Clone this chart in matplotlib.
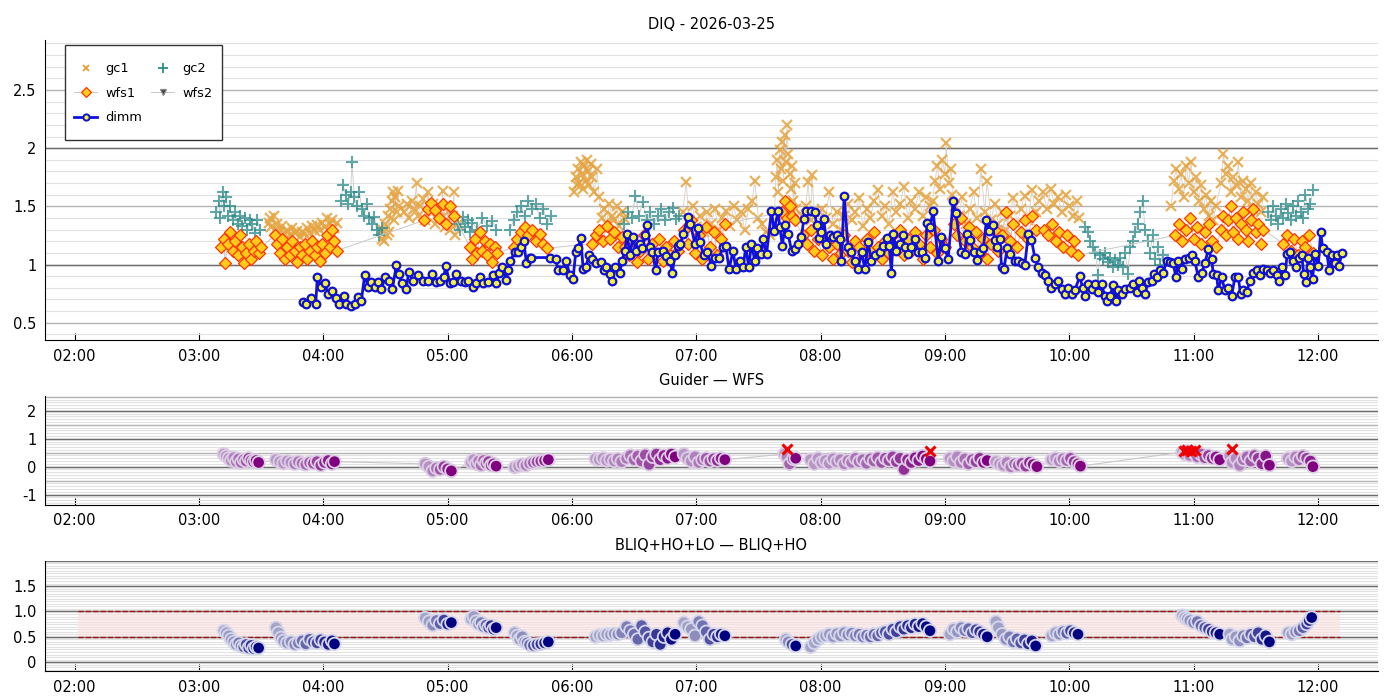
import matplotlib
matplotlib.use('Agg')
import matplotlib.pyplot as plt
import matplotlib.dates as mdates
from matplotlib.ticker import MultipleLocator, FuncFormatter
from matplotlib.lines import Line2D
from matplotlib.legend_handler import HandlerLine2D
import numpy as np
import pandas as pd

DAY = pd.Timestamp('2026-03-25')

# ---- top panel (DIQ) : times in decimal hours, values in arcsec ----
gc1_t = [3.56, 3.57, 3.58, 3.60, 3.61, 3.63, 3.65, 3.67, 3.69, 3.71, 3.73, 3.75, 3.77, 3.79, 3.81, 3.83, 3.85, 3.87,
         3.89, 3.91, 3.93, 3.95, 3.97, 3.99, 4.01, 4.03, 4.05, 4.07, 4.09, 4.11,
         4.47, 4.48, 4.49, 4.50, 4.51, 4.52, 4.53, 4.54, 4.55, 4.56, 4.57, 4.58, 4.59, 4.60, 4.61,
         4.65, 4.67, 4.69, 4.71, 4.73, 4.75, 4.76, 4.78, 4.80, 4.82, 4.84, 4.86, 4.88, 4.90, 4.92, 4.94, 4.96, 4.98,
         5.00, 5.02, 5.04, 5.05, 5.06, 5.08,
         6.02, 6.03, 6.04, 6.05, 6.06, 6.07, 6.08, 6.09, 6.10, 6.11, 6.12, 6.13, 6.14, 6.15, 6.16, 6.18, 6.20, 6.22,
         6.24, 6.26, 6.28, 6.30, 6.32, 6.34, 6.36, 6.38, 6.40, 6.42,
         6.89, 6.92, 6.94, 6.97, 7.00, 7.03, 7.06, 7.09, 7.12, 7.15, 7.18, 7.21, 7.24, 7.27, 7.30, 7.33, 7.36, 7.39,
         7.42, 7.45, 7.47, 7.50, 7.53, 7.56, 7.59,
         7.63, 7.64, 7.65, 7.66, 7.67, 7.68, 7.69, 7.70, 7.71, 7.72, 7.73, 7.74, 7.75, 7.76, 7.77, 7.78, 7.79, 7.80,
         7.85, 7.88, 7.90, 7.92, 7.93, 7.95, 7.98, 8.01, 8.04, 8.07, 8.10, 8.13, 8.16, 8.19, 8.22, 8.25, 8.28, 8.31,
         8.34, 8.37, 8.40, 8.43, 8.46, 8.49, 8.52, 8.55, 8.58, 8.61, 8.64, 8.67, 8.70, 8.73, 8.76, 8.79, 8.82, 8.85, 8.88,
         8.90, 8.92, 8.94, 8.96, 8.98, 9.00, 9.01, 9.03, 9.05, 9.06,
         9.08, 9.11, 9.14, 9.17, 9.20, 9.23, 9.26, 9.29, 9.32, 9.34, 9.37, 9.40, 9.43, 9.46, 9.49, 9.52, 9.55, 9.58,
         9.61, 9.64, 9.67, 9.70, 9.73,
         9.76, 9.79, 9.82, 9.85, 9.88, 9.91, 9.94, 9.97, 10.00, 10.03, 10.06, 10.08,
         10.82, 10.84, 10.86, 10.88, 10.90, 10.92, 10.94, 10.96, 10.98, 11.00, 11.02, 11.04, 11.06, 11.08, 11.10,
         11.12, 11.14, 11.16, 11.18,
         11.22, 11.24, 11.26, 11.28, 11.30, 11.32, 11.34, 11.36, 11.38, 11.40, 11.42, 11.44, 11.46, 11.48, 11.50,
         11.52, 11.54, 11.56]
gc1_v = [1.36, 1.40, 1.32, 1.42, 1.30, 1.35, 1.28, 1.33, 1.26, 1.30, 1.25, 1.31, 1.27, 1.29, 1.24, 1.28, 1.26, 1.31,
         1.27, 1.33, 1.29, 1.34, 1.30, 1.36, 1.32, 1.40, 1.35, 1.38, 1.31, 1.36,
         1.22, 1.30, 1.20, 1.35, 1.25, 1.42, 1.28, 1.48, 1.55, 1.62, 1.38, 1.58, 1.45, 1.63, 1.50,
         1.45, 1.52, 1.40, 1.55, 1.48, 1.70, 1.42, 1.50, 1.56, 1.38, 1.62, 1.45, 1.52, 1.35, 1.48, 1.40, 1.63, 1.32,
         1.45, 1.30, 1.42, 1.62, 1.25, 1.35,
         1.62, 1.75, 1.68, 1.82, 1.70, 1.88, 1.78, 1.65, 1.85, 1.72, 1.90, 1.80, 1.68, 1.86, 1.75, 1.62, 1.82, 1.58,
         1.40, 1.48, 1.35, 1.52, 1.42, 1.38, 1.50, 1.33, 1.45, 1.40,
         1.45, 1.71, 1.38, 1.50, 1.32, 1.42, 1.28, 1.45, 1.35, 1.48, 1.30, 1.40, 1.46, 1.33, 1.50, 1.38, 1.45, 1.30,
         1.48, 1.55, 1.72, 1.40, 1.35, 1.28, 1.25,
         1.45, 1.75, 1.90, 1.62, 1.98, 1.82, 2.05, 1.72, 2.11, 1.88, 2.20, 1.95, 1.78, 1.65, 1.85, 1.55, 1.70, 1.48,
         1.42, 1.50, 1.71, 1.38, 1.77, 1.45, 1.32, 1.48, 1.40, 1.62, 1.35, 1.45, 1.30, 1.42, 1.52, 1.38, 1.45, 1.57,
         1.33, 1.48, 1.40, 1.55, 1.64, 1.42, 1.50, 1.35, 1.62, 1.45, 1.52, 1.67, 1.40, 1.55, 1.48, 1.62, 1.42, 1.58, 1.50,
         1.55, 1.72, 1.85, 1.65, 1.90, 1.78, 2.04, 1.70, 1.82, 1.60,
         1.50, 1.42, 1.58, 1.35, 1.48, 1.62, 1.40, 1.82, 1.45, 1.72, 1.38, 1.52, 1.35, 1.45, 1.30, 1.42, 1.57, 1.35,
         1.48, 1.59, 1.38, 1.64, 1.45,
         1.55, 1.62, 1.48, 1.65, 1.52, 1.58, 1.45, 1.60, 1.50, 1.42, 1.55, 1.40,
         1.50, 1.72, 1.82, 1.65, 1.78, 1.58, 1.85, 1.70, 1.88, 1.62, 1.75, 1.55, 1.68, 1.48, 1.60,
         1.42, 1.55, 1.38, 1.50,
         1.70, 1.95, 1.78, 1.85, 1.62, 1.75, 1.68, 1.88, 1.58, 1.72, 1.65, 1.55, 1.70, 1.48, 1.62,
         1.52, 1.45, 1.58]

gc2_t = [3.14, 3.16, 3.17, 3.19, 3.20, 3.22, 3.23, 3.25, 3.27, 3.29, 3.31, 3.33, 3.35, 3.37, 3.39, 3.41, 3.43, 3.45,
         3.47, 3.49,
         4.14, 4.16, 4.18, 4.20, 4.22, 4.23, 4.25, 4.27, 4.29, 4.31, 4.33, 4.35, 4.37, 4.39, 4.41, 4.43, 4.45, 4.47,
         5.08, 5.10, 5.12, 5.14, 5.16, 5.18, 5.20, 5.24, 5.28, 5.32, 5.36, 5.39,
         5.50, 5.53, 5.56, 5.59, 5.62, 5.65, 5.68, 5.71, 5.74, 5.77, 5.80, 5.83,
         6.42, 6.45, 6.48, 6.51, 6.54, 6.57, 6.60, 6.63, 6.66, 6.69, 6.72, 6.75, 6.78, 6.81, 6.84, 6.86,
         10.13, 10.15, 10.17, 10.19, 10.21, 10.23, 10.25, 10.27, 10.29, 10.31, 10.33, 10.35, 10.37, 10.39, 10.41,
         10.43, 10.45, 10.47, 10.49, 10.51, 10.53, 10.55, 10.57, 10.59, 10.61, 10.63, 10.65, 10.67, 10.69, 10.71,
         10.73, 10.75,
         11.60, 11.62, 11.64, 11.66, 11.68, 11.70, 11.72, 11.74, 11.76, 11.78, 11.80, 11.82, 11.84, 11.86, 11.88,
         11.90, 11.92, 11.94, 11.96]
gc2_v = [1.45, 1.55, 1.40, 1.62, 1.50, 1.58, 1.42, 1.50, 1.38, 1.45, 1.35, 1.42, 1.33, 1.40, 1.30, 1.38, 1.35, 1.27,
         1.38, 1.30,
         1.55, 1.68, 1.60, 1.52, 1.62, 1.88, 1.58, 1.50, 1.62, 1.48, 1.42, 1.52, 1.40, 1.35, 1.41, 1.30, 1.25, 1.31,
         1.35, 1.30, 1.41, 1.32, 1.38, 1.28, 1.36, 1.30, 1.40, 1.33, 1.37, 1.30,
         1.30, 1.38, 1.45, 1.50, 1.42, 1.55, 1.48, 1.52, 1.40, 1.48, 1.35, 1.42,
         1.35, 1.45, 1.40, 1.59, 1.42, 1.54, 1.38, 1.45, 1.35, 1.42, 1.48, 1.38, 1.45, 1.49, 1.39, 1.42,
         1.32, 1.28, 1.20, 1.15, 1.10, 0.91, 1.08, 1.05, 1.10, 1.02, 1.06, 0.98, 1.04, 1.00, 1.06,
         0.98, 1.10, 0.92, 1.15, 1.20, 1.28, 1.35, 1.45, 1.55, 1.30, 1.20, 1.10, 1.25, 1.05, 1.15,
         1.00, 1.08,
         1.45, 1.38, 1.50, 1.42, 1.35, 1.48, 1.40, 1.52, 1.44, 1.38, 1.50, 1.42, 1.55, 1.45, 1.40,
         1.60, 1.48, 1.52, 1.64]

wfs1_t = [3.18, 3.20, 3.21, 3.23, 3.25, 3.27, 3.29, 3.31, 3.33, 3.35, 3.36, 3.38, 3.40, 3.42, 3.44, 3.46, 3.48, 3.50,
          3.61, 3.63, 3.65, 3.67, 3.69, 3.71, 3.73, 3.75, 3.77, 3.79, 3.81, 3.83, 3.85, 3.87, 3.89, 3.91, 3.93, 3.95,
          3.97, 3.99, 4.01, 4.03, 4.05, 4.07, 4.09, 4.11,
          4.81, 4.84, 4.87, 4.90, 4.93, 4.96, 4.99, 5.02, 5.05,
          5.18, 5.20, 5.22, 5.24, 5.26, 5.28, 5.30, 5.32, 5.34, 5.36, 5.38, 5.40,
          5.53, 5.56, 5.59, 5.62, 5.65, 5.68, 5.71, 5.74, 5.77, 5.80,
          6.16, 6.19, 6.22, 6.25, 6.28, 6.31, 6.34, 6.37, 6.40,
          6.43, 6.46, 6.49, 6.52, 6.55, 6.58, 6.61, 6.64, 6.67, 6.70, 6.73, 6.76, 6.79, 6.82, 6.85,
          6.90, 6.93, 6.96, 6.99, 7.02, 7.05, 7.08, 7.11, 7.14, 7.17, 7.20, 7.23,
          7.69, 7.71, 7.73, 7.75, 7.77, 7.79,
          7.86, 7.89, 7.92, 7.95, 7.98, 8.01, 8.04, 8.07, 8.10, 8.13, 8.16, 8.19, 8.22, 8.25, 8.28, 8.31, 8.34, 8.37,
          8.40, 8.43, 8.46, 8.49, 8.52, 8.55, 8.58, 8.61, 8.64, 8.67, 8.70, 8.73, 8.76, 8.79, 8.82, 8.85, 8.88, 8.91,
          8.94, 8.97, 9.00,
          9.07, 9.10, 9.13, 9.16, 9.19, 9.22, 9.25, 9.28, 9.31, 9.34, 9.37, 9.40, 9.43, 9.46, 9.49, 9.52, 9.55, 9.58,
          9.61, 9.64, 9.67, 9.70, 9.73,
          9.80, 9.83, 9.86, 9.89, 9.92, 9.95, 9.98, 10.01, 10.04, 10.07,
          10.85, 10.88, 10.91, 10.94, 10.97, 11.00, 11.03, 11.06, 11.09, 11.12, 11.15, 11.18,
          11.22, 11.24, 11.26, 11.28, 11.30, 11.32, 11.34, 11.36, 11.38, 11.40, 11.42, 11.44, 11.46, 11.48, 11.50,
          11.52, 11.54, 11.56,
          11.72, 11.75, 11.78, 11.81, 11.84, 11.87, 11.90, 11.93, 11.96]
wfs1_v = [1.15, 1.22, 1.01, 1.18, 1.28, 1.12, 1.20, 1.08, 1.25, 1.15, 1.01, 1.10, 1.18, 1.05, 1.12, 1.20, 1.10, 1.15,
          1.25, 1.18, 1.10, 1.22, 1.05, 1.15, 1.08, 1.20, 1.12, 1.02, 1.15, 1.08, 1.18, 1.05, 1.12, 1.20, 1.08, 1.15,
          1.03, 1.18, 1.10, 1.25, 1.15, 1.30, 1.20, 1.12,
          1.38, 1.48, 1.53, 1.47, 1.40, 1.52, 1.35, 1.50, 1.42,
          1.15, 1.05, 1.22, 1.10, 1.28, 1.12, 1.20, 1.08, 1.18, 1.02, 1.15, 1.10,
          1.15, 1.22, 1.28, 1.32, 1.25, 1.30, 1.20, 1.26, 1.18, 1.14,
          1.18, 1.25, 1.30, 1.20, 1.33, 1.22, 1.28, 1.15, 1.24,
          1.15, 1.08, 1.20, 1.02, 1.12, 1.25, 1.05, 1.18, 1.10, 1.22, 1.03, 1.15, 1.08, 1.20, 1.12,
          1.30, 1.18, 1.38, 1.10, 1.25, 1.05, 1.32, 1.15, 1.28, 1.08, 1.22, 1.35,
          1.45, 1.55, 1.40, 1.50, 1.42, 1.38,
          1.25, 1.18, 1.30, 1.12, 1.22, 1.08, 1.20, 1.15, 1.05, 1.18, 1.10, 1.25, 1.12, 1.02, 1.20, 1.15, 1.08, 1.22,
          1.12, 1.28, 1.15, 1.05, 1.20, 1.10, 1.25, 1.15, 1.30, 1.08, 1.22, 1.12, 1.28, 1.18, 1.05, 1.25, 1.15, 1.30,
          1.10, 1.22, 1.15,
          1.35, 1.25, 1.40, 1.20, 1.32, 1.15, 1.28, 1.10, 1.22, 1.05, 1.18, 1.30, 1.12, 1.25, 1.45, 1.20, 1.35, 1.15,
          1.28, 1.38, 1.22, 1.42, 1.30,
          1.30, 1.25, 1.35, 1.20, 1.28, 1.15, 1.25, 1.12, 1.20, 1.08,
          1.25, 1.35, 1.20, 1.30, 1.40, 1.22, 1.32, 1.18, 1.28, 1.35, 1.20, 1.15,
          1.30, 1.42, 1.25, 1.38, 1.50, 1.28, 1.40, 1.22, 1.35, 1.45, 1.30, 1.20, 1.38, 1.48, 1.28,
          1.35, 1.18, 1.30,
          1.18, 1.25, 1.12, 1.22, 1.08, 1.20, 1.15, 1.25, 1.10]

dimm_t = [3.837, 3.864, 3.904, 3.939, 3.952, 3.985, 4.011, 4.038, 4.073, 4.105, 4.124, 4.164, 4.186, 4.220, 4.253,
          4.279, 4.306, 4.333, 4.360, 4.387, 4.414, 4.440, 4.467, 4.499, 4.526, 4.556, 4.588, 4.609, 4.633, 4.668,
          4.687, 4.722, 4.762, 4.802, 4.843, 4.877, 4.910, 4.936, 4.969, 4.985, 5.017, 5.044, 5.071, 5.111, 5.138,
          5.164, 5.205, 5.232, 5.258, 5.285, 5.325,
          5.366, 5.392, 5.414, 5.441, 5.473, 5.486, 5.505, 5.540, 5.567, 5.588, 5.612, 5.634, 5.661, 5.674, 5.821,
          5.870, 5.888, 5.929, 5.955, 5.982, 6.009, 6.031, 6.049, 6.071, 6.090, 6.111, 6.138, 6.165, 6.197, 6.237,
          6.256, 6.277, 6.304, 6.323, 6.350, 6.385, 6.403, 6.425, 6.444, 6.465, 6.492, 6.513, 6.545, 6.567, 6.586,
          6.607, 6.626, 6.647, 6.674, 6.693, 6.733, 6.760, 6.787, 6.808, 6.827, 6.854, 6.873, 6.894, 6.934, 6.953,
          6.988, 7.015, 7.028, 7.060, 7.087, 7.122, 7.149, 7.184, 7.216, 7.237, 7.264, 7.296, 7.318, 7.350, 7.377,
          7.398, 7.422, 7.444, 7.471, 7.489, 7.524, 7.538, 7.565, 7.605, 7.626, 7.658, 7.672, 7.693, 7.712, 7.739,
          7.766, 7.792, 7.819, 7.846, 7.865, 7.886, 7.919, 7.953, 7.967, 7.988, 8.007, 8.026, 8.047, 8.074, 8.101,
          8.128, 8.155, 8.168, 8.189, 8.221, 8.243, 8.275, 8.302, 8.329, 8.356, 8.382, 8.409, 8.436, 8.476, 8.503,
          8.530, 8.551, 8.570, 8.584, 8.610, 8.637, 8.659, 8.677, 8.704, 8.731, 8.758, 8.785, 8.812, 8.838, 8.857,
          8.879, 8.905, 8.946, 8.972, 8.999, 9.026,
          9.066, 9.088, 9.133, 9.160, 9.174, 9.200, 9.233, 9.254, 9.281, 9.308, 9.334, 9.356, 9.383, 9.401, 9.420,
          9.442, 9.455, 9.474, 9.501, 9.522, 9.562, 9.589, 9.616, 9.643, 9.670, 9.696, 9.723, 9.750, 9.777, 9.804,
          9.831, 9.857, 9.884, 9.911, 9.938, 9.965, 9.991, 10.018, 10.045, 10.085, 10.107, 10.126, 10.152, 10.179,
          10.206, 10.233, 10.260, 10.286, 10.305, 10.327, 10.353, 10.375, 10.394, 10.421, 10.447, 10.488, 10.514,
          10.541, 10.563, 10.581, 10.608, 10.635, 10.662, 10.681, 10.702, 10.729, 10.756, 10.783, 10.809, 10.836,
          10.858, 10.877, 10.903, 10.930, 10.965, 10.984, 11.011, 11.037, 11.064, 11.091, 11.118, 11.145, 11.158,
          11.185, 11.198, 11.225, 11.252, 11.279, 11.306, 11.332, 11.359, 11.378, 11.399, 11.426, 11.453, 11.480,
          11.507, 11.533, 11.560, 11.587, 11.614, 11.641, 11.668, 11.689, 11.708, 11.735, 11.753, 11.775, 11.802,
          11.823, 11.850, 11.869, 11.887, 11.904, 11.922, 11.936, 11.957, 11.976, 12.003, 12.022, 12.038, 12.070,
          12.091, 12.110, 12.137, 12.156, 12.172, 12.190]
dimm_v = [0.68, 0.66, 0.71, 0.66, 0.89, 0.81, 0.84, 0.75, 0.77, 0.71, 0.66, 0.73, 0.66, 0.64, 0.66,
          0.72, 0.69, 0.91, 0.81, 0.85, 0.81, 0.85, 0.79, 0.89, 0.86, 0.79, 1.00, 0.92, 0.84, 0.79,
          0.94, 0.86, 0.91, 0.86, 0.86, 0.92, 0.85, 0.86, 0.89, 0.99, 0.84, 0.85, 0.92, 0.86, 0.85,
          0.86, 0.81, 0.84, 0.89, 0.84, 0.85,
          0.91, 0.84, 0.93, 0.98, 0.87, 0.95, 1.03, 1.11, 1.11, 1.15, 1.20, 1.01, 1.06, 1.06, 1.06,
          1.05, 0.95, 0.95, 1.03, 0.91, 0.88, 1.11, 1.14, 1.23, 0.96, 0.98, 1.08, 1.05, 1.01, 1.02,
          0.95, 0.98, 0.92, 0.86, 0.98, 0.93, 1.03, 1.12, 1.26, 1.08, 1.24, 1.12, 1.18, 1.14, 1.25,
          1.34, 1.15, 1.11, 0.95, 1.11, 1.12, 1.07, 1.03, 0.93, 1.08, 1.16, 1.18, 1.26, 1.41, 1.35,
          1.18, 1.31, 1.19, 1.08, 1.11, 0.99, 1.06, 1.06, 1.15, 1.16, 0.96, 1.12, 0.96, 1.03, 0.98,
          1.15, 0.98, 1.18, 1.03, 1.14, 1.09, 1.22, 1.09, 1.46, 1.29, 1.46, 1.32, 1.16, 1.34, 1.26,
          1.12, 1.13, 1.18, 1.24, 1.39, 1.46, 1.46, 1.45, 1.34, 1.23, 1.28, 1.39, 1.18, 1.25, 1.24,
          1.25, 1.22, 1.03, 1.59, 1.15, 1.11, 1.03, 0.96, 1.11, 0.96, 1.19, 1.03, 1.08, 1.11, 1.16,
          1.23, 1.16, 0.93, 1.26, 1.12, 1.18, 1.25, 1.15, 1.09, 1.15, 1.22, 1.11, 1.11, 1.06, 1.36,
          1.32, 1.46, 1.03, 1.24, 1.14, 1.05,
          1.55, 1.44, 1.11, 1.09, 1.26, 1.21, 1.11, 1.04, 1.11, 1.14, 1.38, 1.29, 1.34, 1.21, 1.15,
          1.22, 0.98, 0.96, 1.14, 1.09, 1.03, 1.03, 1.01, 1.00, 1.26, 1.21, 1.06, 0.98, 0.93, 0.91,
          0.86, 0.80, 0.83, 0.86, 0.79, 0.75, 0.80, 0.75, 0.78, 0.90, 0.80, 0.73, 0.83, 0.79,
          0.83, 0.76, 0.83, 0.73, 0.69, 0.73, 0.82, 0.69, 0.78, 0.75, 0.79, 0.80, 0.83,
          0.76, 0.86, 0.80, 0.75, 0.85, 0.86, 0.92, 0.89, 0.95, 0.93, 1.03, 1.02, 1.01,
          0.89, 1.03, 0.96, 1.05, 1.06, 1.08, 1.03, 0.89, 0.93, 1.01, 1.13, 1.05, 0.92,
          0.91, 0.78, 0.89, 0.78, 0.80, 0.73, 0.89, 0.89, 0.75, 0.78, 0.76, 0.86, 0.93,
          0.95, 0.91, 0.96, 0.95, 0.93, 0.95, 0.91, 0.86, 0.98, 0.91, 1.09, 1.11, 1.03,
          0.98, 1.06, 1.08, 0.92, 0.85, 1.06, 0.98, 0.88, 1.09, 0.99, 1.28, 1.14, 1.11,
          0.95, 1.08, 1.01, 1.08, 0.99, 1.10]

# ---- middle panel (Guider - WFS) ----
gw_t = [3.20, 3.22, 3.24, 3.26, 3.28, 3.30, 3.32, 3.34, 3.36, 3.38, 3.40, 3.42, 3.44, 3.46, 3.48,
        3.62, 3.65, 3.68, 3.71, 3.74, 3.77, 3.80, 3.83, 3.86, 3.89, 3.92, 3.95, 3.98, 4.01, 4.04, 4.07, 4.09,
        4.82, 4.85, 4.88, 4.91, 4.94, 4.97, 5.00, 5.03,
        5.19, 5.21, 5.23, 5.25, 5.27, 5.29, 5.31, 5.33, 5.35, 5.37, 5.39,
        5.54, 5.57, 5.60, 5.63, 5.66, 5.69, 5.72, 5.75, 5.78, 5.81,
        6.19, 6.22, 6.25, 6.28, 6.31, 6.34, 6.37, 6.40,
        6.44, 6.47, 6.50, 6.53, 6.56, 6.59, 6.62, 6.65, 6.68, 6.71, 6.74, 6.77, 6.80, 6.83,
        6.90, 6.93, 6.96, 6.99, 7.02, 7.05, 7.08, 7.11, 7.14, 7.17, 7.20, 7.23,
        7.71, 7.73, 7.75, 7.78, 7.80,
        7.92, 7.95, 7.98, 8.01, 8.04, 8.07, 8.10, 8.13, 8.16, 8.19, 8.22, 8.25, 8.28, 8.31, 8.34, 8.37, 8.40, 8.43,
        8.46, 8.49, 8.52, 8.55, 8.58, 8.61, 8.64, 8.67, 8.70, 8.73, 8.76, 8.79, 8.82, 8.85, 8.88,
        9.04, 9.07, 9.10, 9.13, 9.16, 9.19, 9.22, 9.25, 9.28, 9.31, 9.34,
        9.41, 9.44, 9.47, 9.50, 9.53, 9.56, 9.59, 9.62, 9.65, 9.68, 9.71, 9.74,
        9.86, 9.89, 9.92, 9.95, 9.98, 10.01, 10.04, 10.07, 10.09,
        10.91, 10.93, 10.95, 10.97, 11.00, 11.03, 11.06, 11.09, 11.12, 11.15, 11.18, 11.21,
        11.29, 11.31, 11.34, 11.37, 11.40, 11.43, 11.46, 11.49, 11.52, 11.55, 11.58, 11.61,
        11.76, 11.79, 11.82, 11.85, 11.88, 11.91, 11.94, 11.96]
gw_v = [0.45, 0.38, 0.30, 0.22, 0.32, 0.18, 0.28, 0.15, 0.25, 0.20, 0.30, 0.22, 0.18, 0.22, 0.15,
        0.25, 0.18, 0.12, 0.20, 0.15, 0.10, 0.18, 0.12, 0.08, 0.15, 0.12, 0.18, 0.05, 0.15, 0.22, 0.10, 0.18,
        0.10, 0.00, -0.15, -0.05, -0.10, 0.00, -0.08, -0.15,
        0.15, 0.25, 0.10, 0.20, 0.05, 0.22, 0.12, 0.18, 0.05, 0.10, 0.02,
        -0.02, 0.02, 0.08, 0.05, 0.12, 0.15, 0.18, 0.20, 0.22, 0.25,
        0.28, 0.25, 0.30, 0.22, 0.26, 0.20, 0.28, 0.18,
        0.30, 0.40, 0.25, 0.38, 0.20, 0.42, 0.08, 0.35, 0.45, 0.25, 0.40, 0.30, 0.45, 0.35,
        0.45, 0.30, 0.20, 0.35, 0.15, 0.25, 0.30, 0.20, 0.28, 0.22, 0.30, 0.25,
        0.45, 0.35, 0.10, 0.28, 0.30,
        0.25, 0.10, 0.30, 0.15, 0.22, 0.12, 0.28, 0.18, 0.25, 0.10, 0.22, 0.15, 0.30, 0.18, 0.25, 0.12, 0.28, 0.20,
        0.32, 0.15, 0.30, 0.22, 0.35, 0.18, 0.30, -0.10, 0.25, 0.15, 0.32, 0.22, 0.38, 0.28, 0.20,
        0.30, 0.20, 0.35, 0.15, 0.28, 0.10, 0.25, 0.18, 0.30, 0.15, 0.22,
        0.18, 0.10, 0.05, 0.15, 0.00, 0.10, 0.05, 0.12, 0.02, 0.15, 0.08, 0.00,
        0.25, 0.30, 0.20, 0.28, 0.22, 0.30, 0.18, 0.10, 0.02,
        0.52, 0.45, 0.55, 0.40, 0.50, 0.35, 0.45, 0.32, 0.40, 0.30, 0.35, 0.25,
        0.40, 0.15, 0.30, 0.05, 0.25, 0.35, 0.20, 0.40, 0.30, 0.10, 0.38, 0.05,
        0.30, 0.20, 0.35, 0.25, 0.38, 0.30, 0.20, 0.00]
flag_t = [7.73, 8.88, 10.92, 10.95, 10.98, 11.01, 11.31]
flag_v = [0.64, 0.55, 0.57, 0.59, 0.57, 0.59, 0.64]

# ---- bottom panel (BLIQ+HO+LO - BLIQ+HO) ----
bl_t = [3.20, 3.22, 3.24, 3.26, 3.28, 3.30, 3.32, 3.34, 3.36, 3.38, 3.40, 3.42, 3.44, 3.46, 3.48,
        3.62, 3.64, 3.66, 3.68, 3.71, 3.74, 3.77, 3.80, 3.83, 3.86, 3.89, 3.92, 3.95, 3.98, 4.01, 4.04, 4.07, 4.09,
        4.82, 4.85, 4.88, 4.91, 4.94, 4.97, 5.00, 5.03,
        5.19, 5.21, 5.23, 5.25, 5.27, 5.29, 5.31, 5.33, 5.35, 5.37, 5.39,
        5.54, 5.56, 5.58, 5.60, 5.62, 5.64, 5.66, 5.69, 5.72, 5.75, 5.78, 5.81,
        6.19, 6.22, 6.25, 6.28, 6.31, 6.34, 6.37, 6.40,
        6.44, 6.47, 6.50, 6.53, 6.56, 6.59, 6.62, 6.65, 6.68, 6.71, 6.74, 6.77, 6.80, 6.83,
        6.90, 6.93, 6.96, 6.99, 7.02, 7.05, 7.08, 7.11, 7.14, 7.17, 7.20, 7.23,
        7.72, 7.74, 7.77, 7.80,
        7.92, 7.95, 7.98, 8.01, 8.04, 8.07, 8.10, 8.13, 8.16, 8.19, 8.22, 8.25, 8.28, 8.31, 8.34, 8.37, 8.40, 8.43,
        8.46, 8.49, 8.52, 8.55, 8.58, 8.61, 8.64, 8.67, 8.70, 8.73, 8.76, 8.79, 8.82, 8.85, 8.88,
        9.04, 9.07, 9.10, 9.13, 9.16, 9.19, 9.22, 9.25, 9.28, 9.31, 9.34,
        9.41, 9.43, 9.46, 9.49, 9.52, 9.55, 9.58, 9.61, 9.64, 9.67, 9.70, 9.73,
        9.86, 9.89, 9.92, 9.95, 9.98, 10.01, 10.04, 10.07,
        10.91, 10.93, 10.95, 10.97, 11.00, 11.03, 11.06, 11.09, 11.12, 11.15, 11.18, 11.21,
        11.29, 11.31, 11.34, 11.37, 11.40, 11.43, 11.46, 11.49, 11.52, 11.55, 11.58, 11.61,
        11.76, 11.79, 11.82, 11.85, 11.88, 11.91, 11.93, 11.95]
bl_v = [0.62, 0.58, 0.52, 0.45, 0.40, 0.35, 0.38, 0.32, 0.30, 0.35, 0.28, 0.33, 0.27, 0.30, 0.28,
        0.68, 0.58, 0.48, 0.42, 0.38, 0.40, 0.35, 0.38, 0.42, 0.36, 0.45, 0.40, 0.38, 0.44, 0.40, 0.35, 0.42, 0.36,
        0.87, 0.80, 0.73, 0.82, 0.76, 0.83, 0.75, 0.78,
        0.85, 0.90, 0.80, 0.75, 0.78, 0.70, 0.73, 0.68, 0.72, 0.65, 0.68,
        0.58, 0.52, 0.45, 0.50, 0.40, 0.38, 0.34, 0.33, 0.35, 0.36, 0.38, 0.40,
        0.50, 0.53, 0.52, 0.55, 0.54, 0.56, 0.55, 0.58,
        0.70, 0.62, 0.55, 0.45, 0.72, 0.60, 0.48, 0.40, 0.55, 0.35, 0.50, 0.58, 0.45, 0.55,
        0.78, 0.70, 0.65, 0.52, 0.80, 0.72, 0.60, 0.45, 0.55, 0.50, 0.55, 0.52,
        0.45, 0.40, 0.35, 0.32,
        0.30, 0.38, 0.45, 0.50, 0.52, 0.55, 0.50, 0.56, 0.52, 0.58, 0.54, 0.57, 0.52, 0.55, 0.50, 0.53, 0.50, 0.55,
        0.52, 0.58, 0.60, 0.55, 0.65, 0.60, 0.70, 0.65, 0.72, 0.68, 0.75, 0.70, 0.76, 0.70, 0.62,
        0.55, 0.65, 0.60, 0.68, 0.62, 0.66, 0.58, 0.64, 0.60, 0.55, 0.50,
        0.80, 0.68, 0.55, 0.45, 0.50, 0.40, 0.46, 0.38, 0.44, 0.36, 0.42, 0.32,
        0.52, 0.58, 0.55, 0.60, 0.57, 0.62, 0.58, 0.55,
        0.92, 0.88, 0.85, 0.82, 0.78, 0.80, 0.72, 0.68, 0.65, 0.60, 0.58, 0.55,
        0.55, 0.45, 0.50, 0.42, 0.52, 0.48, 0.55, 0.50, 0.58, 0.45, 0.52, 0.40,
        0.58, 0.55, 0.60, 0.62, 0.68, 0.75, 0.82, 0.88]

band_lo, band_hi = 0.5, 1.0
band_t = [2.03, 12.18]
x_range = [1.76, 12.48]


def to_dt(hours):
    return DAY + pd.to_timedelta(np.asarray(hours, dtype=float), unit='h')


def num_fmt(v, pos):
    return ('%g' % v)


class LowLine(HandlerLine2D):
    # tall legend rows put the handle above the text; drop it back to the label line
    def create_artists(self, legend, orig_handle, xdescent, ydescent, width, height, fontsize, trans):
        arts = super().create_artists(legend, orig_handle, xdescent, ydescent, width, height, fontsize, trans)
        for a in arts:
            a.set_ydata(np.asarray(a.get_ydata(), dtype=float) - 3.3)
        return arts


def style_axis(ax, ylim, major, minor, dark):
    ax.set_xlim(to_dt(x_range)[0], to_dt(x_range)[1])
    ax.set_ylim(*ylim)
    ax.yaxis.set_major_locator(MultipleLocator(major))
    ax.yaxis.set_minor_locator(MultipleLocator(minor))
    ax.grid(which='minor', axis='y', color='#e2e2e2', lw=0.8)
    ax.grid(which='major', axis='y', color='#b4b4b4', lw=1.0)
    for d in dark:
        ax.axhline(d, color='#6e6e6e', lw=1.0, zorder=1)
    ax.set_axisbelow(True)
    ax.xaxis.set_major_locator(mdates.HourLocator())
    ax.xaxis.set_major_formatter(mdates.DateFormatter('%H:%M'))
    for s in ['top', 'right']:
        ax.spines[s].set_visible(False)
    ax.tick_params(axis='x', direction='in', length=5, labelsize=10.5, pad=6)
    ax.tick_params(axis='y', which='both', length=0, labelsize=10.5, pad=6)


def segments(t, gap=0.06):
    t = np.asarray(t)
    breaks = np.where(np.diff(t) > gap)[0] + 1
    return np.split(np.arange(len(t)), breaks)


def seg_colors(t, light, dark):
    c_light = np.array(matplotlib.colors.to_rgb(light))
    c_dark = np.array(matplotlib.colors.to_rgb(dark))
    cols = np.zeros((len(t), 3))
    for idx in segments(t):
        f = np.linspace(0, 1, len(idx)) ** 1.5
        cols[idx] = c_light[None, :] * (1 - f[:, None]) + c_dark[None, :] * f[:, None]
    return cols


fig = plt.figure(figsize=(14, 7), dpi=100)
ax1 = fig.add_axes([0.032, 0.514, 0.952, 0.429])
ax2 = fig.add_axes([0.032, 0.279, 0.952, 0.155])
ax3 = fig.add_axes([0.032, 0.041, 0.952, 0.158])

# --- top ---
style_axis(ax1, (0.35, 2.93), 0.5, 0.1, [1, 2])
ax1.yaxis.set_major_formatter(FuncFormatter(num_fmt))
ax1.set_yticks([0.5, 1, 1.5, 2, 2.5])

for idx in segments(gc1_t):
    ax1.plot(to_dt(np.array(gc1_t)[idx]), np.array(gc1_v)[idx], color='#d6cfc4', lw=0.6, zorder=2)
for idx in segments(gc2_t):
    ax1.plot(to_dt(np.array(gc2_t)[idx]), np.array(gc2_v)[idx], color='#c4cccc', lw=0.6, zorder=2)
ax1.plot(to_dt(gc1_t), gc1_v, ls='none', marker='x', ms=7, mew=1.6, color='#E6A43F', alpha=0.85, zorder=3)
ax1.plot(to_dt(gc2_t), gc2_v, ls='none', marker='+', ms=8.5, mew=1.5, color='#2E8B8B', alpha=0.75, zorder=3)
ax1.plot(to_dt(wfs1_t), wfs1_v, color='#c8c8c8', lw=0.7, marker='D', ms=6.5, mfc='#FFCC1A', mec='#FF3300',
         mew=0.9, zorder=4)
ax1.plot(to_dt(dimm_t), dimm_v, color='#1010E0', lw=2, marker='o', ms=5.5, mfc='#F2F23C', mec='#1010D0',
         mew=1.6, zorder=5)

h_gc1 = Line2D([], [], ls='none', marker='x', ms=5, mew=1.4, color='#E6A43F')
h_gc2 = Line2D([], [], ls='none', marker='+', ms=6.5, mew=1.3, color='#2E8B8B')
h_wfs1 = Line2D([], [], color='#c8c8c8', lw=0.7, marker='D', ms=5, mfc='#FFCC1A', mec='#FF3300', mew=0.9)
h_wfs2 = Line2D([], [], color='#c8c8c8', lw=0.7, marker='v', ms=5, mfc='#444444', mec='#888888', mew=0.9)
h_dimm = Line2D([], [], color='#1010E0', lw=2, marker='o', ms=4.5, mfc='#F2F23C', mec='#1010D0', mew=1.4)
leg = ax1.legend([h_gc1, h_wfs1, h_dimm, h_gc2, h_wfs2], ['gc1', 'wfs1', 'dimm', 'gc2', 'wfs2'],
                 ncol=2, loc='upper left', bbox_to_anchor=(0.015, 0.983), borderaxespad=0, fontsize=9.3,
                 fancybox=False, edgecolor='#333333', framealpha=1, borderpad=0.75, labelspacing=-0.25,
                 handleheight=2.9, columnspacing=0.7, handlelength=1.75, handletextpad=0.65,
                 handler_map={Line2D: LowLine()})
leg.get_frame().set_linewidth(1.0)
ax1.set_title('DIQ - 2026-03-25', fontsize=10.5, pad=8)

# --- middle ---
style_axis(ax2, (-1.36, 2.52), 1, 0.1, [-1, 0, 1, 2])
ax2.yaxis.set_major_formatter(FuncFormatter(num_fmt))
for yy in [-0.5, 0.5, 1.5, 2.5]:
    ax2.axhline(yy, color='#b4b4b4', lw=1.0, zorder=0.9)
ax2.plot(to_dt(gw_t), gw_v, color='#c8c8c8', lw=0.8, zorder=2)
ax2.scatter(to_dt(gw_t), gw_v, s=80, c=seg_colors(gw_t, '#b797c6', '#800080'), edgecolors='#dccde4',
            linewidths=1.3, zorder=3)
ax2.plot(to_dt(flag_t), flag_v, ls='none', marker='x', ms=7, mew=2.2, color='#EE0000', zorder=4)
ax2.set_title('Guider \u2014 WFS', fontsize=10.5, pad=8)

# --- bottom ---
style_axis(ax3, (-0.18, 2.0), 0.5, 0.05, [0, 0.5, 1.0, 1.5, 2.0])
ax3.yaxis.set_major_formatter(FuncFormatter(lambda v, p: '0' if abs(v) < 1e-9 else '%.1f' % v))
ax3.set_yticks([0, 0.5, 1.0, 1.5])
ax3.fill_between(to_dt(band_t), band_lo, band_hi, color='#fbe3e3', alpha=0.7, lw=0, zorder=0.6)
ax3.plot(to_dt(band_t), [band_lo, band_lo], color='#A01010', ls='--', lw=1.0, zorder=1.5)
ax3.plot(to_dt(band_t), [band_hi, band_hi], color='#A01010', ls='--', lw=1.0, zorder=1.5)
ax3.scatter(to_dt(bl_t), bl_v, s=80, c=seg_colors(bl_t, '#a4a4c8', '#000080'), edgecolors='#d6d6ea',
            linewidths=1.3, zorder=3)
ax3.set_title('BLIQ+HO+LO \u2014 BLIQ+HO', fontsize=10.5, pad=8)

fig.savefig('out.png', dpi=100)
